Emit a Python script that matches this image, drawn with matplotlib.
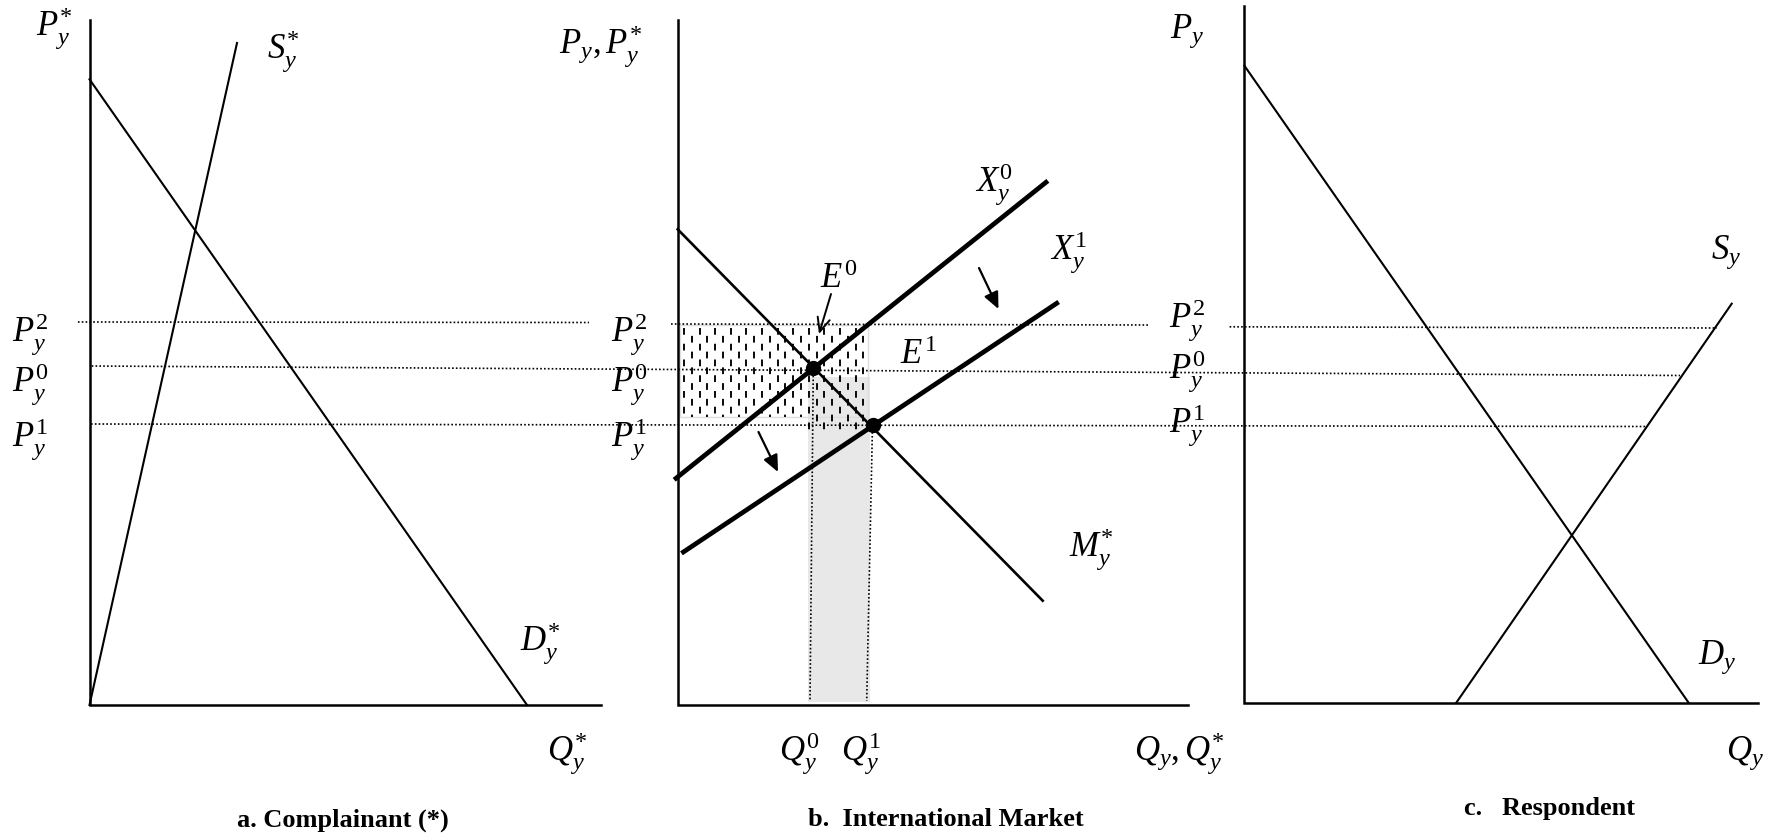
import numpy as np
import matplotlib
matplotlib.use('Agg')
import matplotlib.pyplot as plt
from matplotlib.patches import Rectangle

plt.rcParams['font.family'] = ['Liberation Serif', 'DejaVu Serif']
plt.rcParams['mathtext.fontset'] = 'custom'
plt.rcParams['mathtext.rm'] = 'Liberation Serif'
plt.rcParams['mathtext.it'] = 'Liberation Serif:italic'
plt.rcParams['mathtext.bf'] = 'Liberation Serif:bold'

# coordinates (pixels, y down)
# panel a - complainant
a_axis_x = [89.5, 89.5, 600.7]
a_axis_y = [20.4, 705, 705]
a_demand_x = [89.5, 527]
a_demand_y = [79.3, 705]
a_supply_x = [89.5, 237]
a_supply_y = [705, 43]

# panel b - international market
b_axis_x = [677.7, 677.7, 1187.7]
b_axis_y = [20.4, 705, 705]
b_import_x = [677.7, 1042.7]
b_import_y = [229.3, 600.7]
b_export0_x = [676, 1046]
b_export0_y = [478.3, 182.3]
b_export1_x = [683.4, 1056.7]
b_export1_y = [552, 303.3]
eq_x = [813.3, 872.5]
eq_y = [368, 424.5]

# panel c - respondent
c_axis_x = [1244.4, 1244.4, 1757.7]
c_axis_y = [6, 702.7, 702.7]
c_demand_x = [1244.4, 1688.6]
c_demand_y = [65.7, 702.7]
c_supply_x = [1456.3, 1731.7]
c_supply_y = [702.7, 303.7]

# price levels
p2_x = [[77.9, 589], [671, 1148], [1229.6, 1717]]
p2_y = [[322, 322.5], [324, 325], [326.8, 328]]
p0_x = [91.7, 1680]
p0_y = [366, 375.5]
p1_x = [91, 1647]
p1_y = [424, 426.5]

# quantity drop lines
q0_x = [813.3, 810]
q0_y = [368, 701]
q1_x = [872.5, 866.7]
q1_y = [424.5, 701]

# shaded areas (x0, x1, y0, y1)
grey_box = [808.3, 869.5, 376.7, 701.7]
hatch_box = [680, 868, 325, 417]
hatch_ext_y = 430

# arrows: (tail, tip)
shift_arrows = [((979, 268), (998.5, 309)), ((758.5, 432), (778, 472))]
e0_arrow = ((831, 294), (819, 334))

labels = [
    (r'$P_y^{*}$', 54, 28), (r'$S_y^{*}$', 283, 51), (r'$D_y^{*}$', 540, 643),
    (r'$Q_y^{*}$', 567, 753),
    (r'$P_y^{2}$', 30, 334), (r'$P_y^{0}$', 30, 384), (r'$P_y^{1}$', 30, 439),
    (r'$P_y,P_y^{*}$', 601, 46),
    (r'$P_y^{2}$', 629, 334), (r'$P_y^{0}$', 629, 384), (r'$P_y^{1}$', 629, 439),
    (r'$X_y^{0}$', 994, 184), (r'$X_y^{1}$', 1069, 252),
    (r'$E^{0}$', 839, 280), (r'$E^{1}$', 918, 356),
    (r'$M_y^{*}$', 1091, 549),
    (r'$Q_y^{0}$', 799, 753), (r'$Q_y^{1}$', 861, 753),
    (r'$Q_y,Q_y^{*}$', 1179, 753),
    (r'$P_y$', 1187, 31),
    (r'$P_y^{2}$', 1187, 320), (r'$P_y^{0}$', 1187, 371), (r'$P_y^{1}$', 1187, 425),
    (r'$S_y$', 1726, 252), (r'$D_y$', 1717, 657), (r'$Q_y$', 1745, 753),
]
titles = [('a. Complainant (*)', 343, 820), ('b.  International Market', 946, 820),
          ('c.   Respondent', 1550, 808)]

fig = plt.figure(figsize=(17.77, 8.40), dpi=100)
ax = fig.add_axes([0, 0, 1, 1])
ax.set_xlim(0, 1777)
ax.set_ylim(840, 0)
ax.axis('off')

thin = 1.5
thick = 3.4
dot = (0, (1, 1.3))

# shading
gx0, gx1, gy0, gy1 = grey_box
ax.add_patch(Rectangle((gx0, gy0), gx1 - gx0, gy1 - gy0, facecolor='#e8e8e8',
                       edgecolor='none', zorder=1))
hx0, hx1, hy0, hy1 = hatch_box
ax.add_patch(Rectangle((hx0, hy0), hx1 - hx0, hy1 - hy0, facecolor='none',
                       edgecolor='#dddddd', lw=1, zorder=1))
cols = np.arange(hx0 + 4, hx1, 7.8)
for i, cx in enumerate(cols):
    bottom = hatch_ext_y if cx >= gx0 else hy1
    off = 0 if i % 2 == 0 else 4.2
    ax.vlines(cx, hy0 + 3, bottom, colors='k', lw=1.35,
              linestyles=[(off, (3.6, 4.8))], zorder=2)

# price lines
for xs, ys in zip(p2_x, p2_y):
    ax.plot(xs, ys, color='k', lw=1.2, ls=dot, zorder=3)
ax.plot(p0_x, p0_y, color='k', lw=1.2, ls=dot, zorder=3)
ax.plot(p1_x, p1_y, color='k', lw=1.2, ls=dot, zorder=3)
ax.plot(q0_x, q0_y, color='k', lw=1.2, ls=dot, zorder=3)
ax.plot(q1_x, q1_y, color='k', lw=1.2, ls=dot, zorder=3)

# axes
for xs, ys in [(a_axis_x, a_axis_y), (b_axis_x, b_axis_y), (c_axis_x, c_axis_y)]:
    ax.plot(xs, ys, color='k', lw=1.8, solid_joinstyle='miter', zorder=4)

# curves
ax.plot(a_demand_x, a_demand_y, color='k', lw=thin, zorder=4)
ax.plot(a_supply_x, a_supply_y, color='k', lw=thin, zorder=4)
ax.plot(b_import_x, b_import_y, color='k', lw=thin + 0.4, zorder=4)
ax.plot(b_export0_x, b_export0_y, color='k', lw=thick, zorder=4)
ax.plot(b_export1_x, b_export1_y, color='k', lw=thick, zorder=4)
ax.plot(c_demand_x, c_demand_y, color='k', lw=thin, zorder=4)
ax.plot(c_supply_x, c_supply_y, color='k', lw=thin, zorder=4)
ax.plot(eq_x, eq_y, 'o', color='k', ms=10, zorder=5)

# arrows
for tail, tip in shift_arrows:
    ax.annotate('', xy=tip, xytext=tail,
                arrowprops=dict(arrowstyle='-|>,head_length=10,head_width=4.5',
                                mutation_scale=1, lw=1.6, color='k',
                                shrinkA=0, shrinkB=0), zorder=5)
ax.annotate('', xy=e0_arrow[1], xytext=e0_arrow[0],
            arrowprops=dict(arrowstyle='->,head_length=10,head_width=4.5',
                            mutation_scale=1, lw=1.4, color='k',
                            shrinkA=0, shrinkB=0), zorder=5)

for txt, x, y in labels:
    ax.text(x, y, txt, fontsize=25, ha='center', va='center', zorder=6)
for txt, x, y in titles:
    ax.text(x, y, txt, fontsize=19, fontweight='bold', ha='center', va='center')

fig.savefig('out.png', dpi=100)
